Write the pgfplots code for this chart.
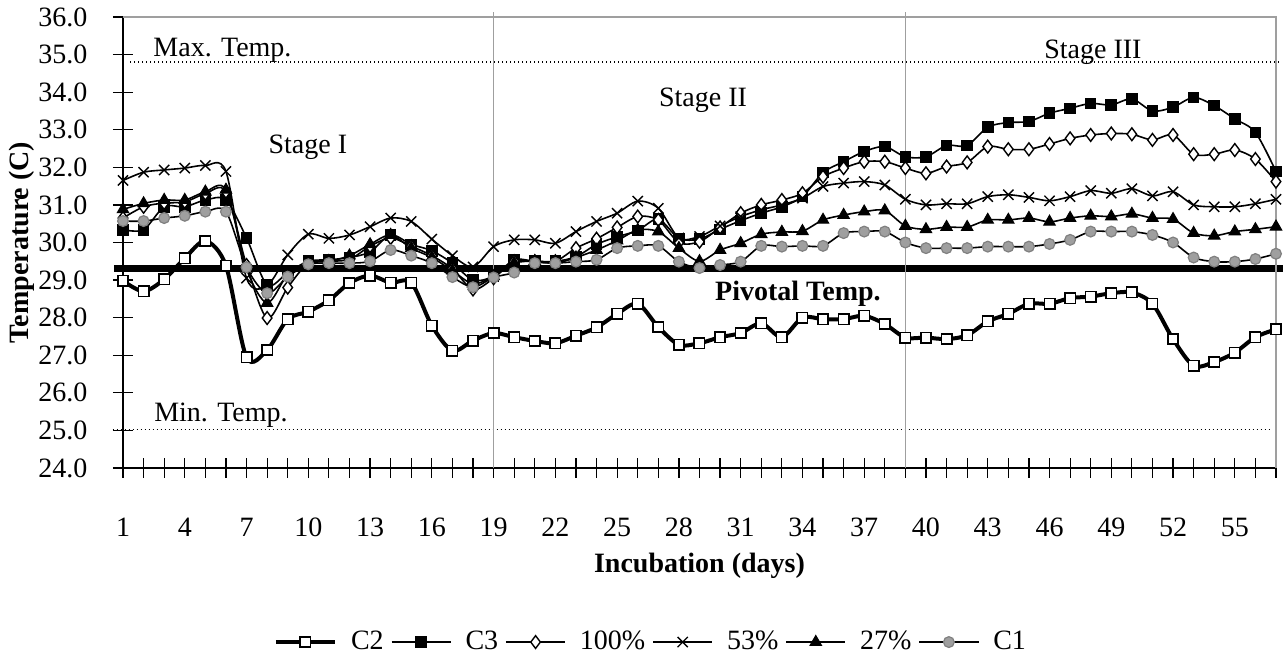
\documentclass[border=0pt]{standalone}
\usepackage{pgfplots}
\pgfplotsset{compat=1.18}
\usepackage{pgfplotstable}
\usepackage{fontspec}
\setmainfont{Liberation Serif}

\pgfplotstableread{
day c2 c3 p100 p53 p27 c1
1 28.98 30.34 30.65 31.65 30.88 30.57
2 28.70 30.34 30.95 31.87 31.04 30.57
3 29.02 30.95 31.05 31.93 31.13 30.65
4 29.58 30.95 31.08 31.98 31.13 30.71
5 30.04 31.13 31.30 32.05 31.35 30.82
6 29.38 31.13 31.35 31.89 31.40 30.82
7 26.94 30.12 29.40 29.05 29.30 29.34
8 27.14 28.87 27.99 28.85 28.39 28.65
9 27.96 29.20 28.80 29.67 29.15 29.09
10 28.16 29.50 29.45 30.22 29.45 29.42
11 28.46 29.54 29.50 30.11 29.50 29.45
12 28.92 29.60 29.55 30.20 29.65 29.45
13 29.12 29.75 29.90 30.42 29.95 29.50
14 28.93 30.20 30.12 30.65 30.20 29.80
15 28.93 29.95 29.90 30.56 29.85 29.65
16 27.79 29.78 29.65 30.09 29.60 29.45
17 27.12 29.45 29.30 29.65 29.25 29.08
18 27.39 29.00 28.75 29.35 28.90 28.81
19 27.59 29.10 29.05 29.89 29.10 29.07
20 27.48 29.54 29.50 30.07 29.45 29.20
21 27.38 29.50 29.50 30.07 29.50 29.45
22 27.32 29.50 29.50 29.98 29.45 29.45
23 27.52 29.62 29.85 30.29 29.60 29.49
24 27.74 29.95 30.10 30.56 29.80 29.54
25 28.10 30.15 30.40 30.78 30.05 29.85
26 28.37 30.32 30.69 31.10 30.33 29.91
27 27.75 30.62 30.60 30.91 30.29 29.91
28 27.28 30.11 30.00 30.12 29.85 29.49
29 27.32 30.09 30.02 30.16 29.50 29.32
30 27.48 30.35 30.40 30.44 29.80 29.40
31 27.59 30.58 30.78 30.69 29.98 29.49
32 27.85 30.78 31.00 30.87 30.22 29.91
33 27.48 30.95 31.13 31.00 30.28 29.89
34 28.00 31.22 31.31 31.18 30.30 29.91
35 27.96 31.86 31.75 31.49 30.60 29.91
36 27.96 32.15 31.98 31.58 30.73 30.25
37 28.05 32.42 32.15 31.62 30.82 30.29
38 27.83 32.55 32.15 31.53 30.85 30.29
39 27.47 32.28 31.98 31.15 30.44 30.00
40 27.47 32.28 31.84 31.00 30.35 29.85
41 27.43 32.58 32.02 31.03 30.41 29.85
42 27.53 32.58 32.13 31.03 30.41 29.85
43 27.90 33.07 32.55 31.22 30.60 29.89
44 28.10 33.19 32.48 31.27 30.60 29.89
45 28.37 33.22 32.48 31.20 30.65 29.89
46 28.37 33.44 32.62 31.11 30.55 29.96
47 28.52 33.57 32.77 31.22 30.65 30.07
48 28.56 33.70 32.86 31.38 30.71 30.29
49 28.65 33.66 32.90 31.31 30.69 30.29
50 28.67 33.82 32.88 31.43 30.76 30.29
51 28.37 33.50 32.73 31.24 30.65 30.20
52 27.43 33.60 32.86 31.35 30.62 30.00
53 26.72 33.86 32.35 31.00 30.25 29.60
54 26.82 33.64 32.35 30.95 30.18 29.49
55 27.07 33.29 32.46 30.95 30.29 29.49
56 27.48 32.93 32.22 31.03 30.35 29.56
57 27.69 31.89 31.62 31.15 30.42 29.70
}\datatable

\begin{document}
\fontsize{14}{17}\selectfont
\begin{tikzpicture}
\useasboundingbox (0,0) rectangle (643pt,328pt);
\begin{axis}[
  at={(61.5pt,94pt)}, anchor=south west,
  width=576.5pt, height=225.5pt, scale only axis,
  xmin=1, xmax=57, ymin=24, ymax=36,
  axis x line*=bottom, axis y line*=left,
  axis line style={black, line width=0.8pt, -},
  xtick={1,4,...,55}, minor xtick={1,...,57},
  ytick={24,25,...,36},
  tick align=center, major tick length=10pt, minor tick length=10pt,
  every tick/.style={black, line width=0.6pt},
  minor tick style={black, line width=0.6pt},
  /pgf/number format/assume math mode=true,
  yticklabel style={/pgf/number format/.cd, fixed, fixed zerofill, precision=1, /tikz/.cd, xshift=-8pt},
  xticklabel style={yshift=-15pt},
  xlabel={\bfseries Incubation (days)},
  ylabel={\bfseries Temperature (C)},
  xlabel style={at={(axis description cs:0.5,-0.217)}, anchor=center},
  ylabel style={at={(axis description cs:-0.0876,0.5)}, anchor=center, rotate=0},
  clip=false,
  legend style={at={(axis description cs:0.457,-0.386)}, anchor=center, draw=none, fill=none,
    font=\fontsize{14}{17}\selectfont,
    nodes={inner sep=0pt},
    /tikz/every even column/.append style={column sep=3.5pt},
    /tikz/every odd column/.append style={column sep=7pt}},
  legend columns=6,
  legend image code/.code={\draw[mark repeat=2,mark phase=2] plot coordinates {(0cm,0cm) (0.52cm,0cm) (1.04cm,0cm)};},
]
% reference lines
\draw[black, line width=3.5pt] (axis cs:0.56,29.32) -- (axis cs:57.34,29.32);
\draw[black, line width=0.6pt, dash pattern=on 0.6pt off 1.4pt] (axis cs:1.35,34.8) -- (axis cs:57.3,34.8);
\draw[black, line width=0.6pt, dash pattern=on 0.6pt off 1.4pt] (axis cs:0.5,25.03) -- (axis cs:56.7,25.03);
\draw[gray!75, line width=0.8pt] (axis cs:19,36.13) -- (axis cs:19,24);
\draw[gray!75, line width=0.8pt] (axis cs:39,36.13) -- (axis cs:39,24);
\draw[gray!75, line width=0.8pt] (rel axis cs:0,1) -- (rel axis cs:1,1) -- (rel axis cs:1,0);

\addplot[black, line width=2pt, smooth, mark=square*, mark size=2.6pt,
  mark options={solid, fill=white, draw=black, line width=0.8pt}] table[x=day, y=c2] {\datatable};
\addlegendentry{C2}
\addplot[black, line width=0.8pt, smooth, mark=square*, mark size=2.6pt,
  mark options={solid, fill=black, draw=black, line width=0.6pt}] table[x=day, y=c3] {\datatable};
\addlegendentry{C3}
\addplot[black, line width=0.8pt, smooth, mark=diamond*, mark size=3.2pt,
  mark options={solid, fill=white, draw=black, line width=0.7pt}] table[x=day, y=p100] {\datatable};
\addlegendentry{100\%}
\addplot[black, line width=0.8pt, smooth, mark=x, mark size=3.6pt,
  mark options={solid, draw=black, line width=0.7pt}] table[x=day, y=p53] {\datatable};
\addlegendentry{53\%}
\addplot[black, line width=0.8pt, smooth, mark=triangle*, mark size=3.3pt,
  mark options={solid, fill=black, draw=black, line width=0.5pt}] table[x=day, y=p27] {\datatable};
\addlegendentry{27\%}
\addplot[black, line width=0.8pt, smooth, mark=*, mark size=2.7pt,
  mark options={solid, fill=gray!75, draw=gray, line width=0.6pt}] table[x=day, y=c1] {\datatable};
\addlegendentry{C1}

\node[anchor=base, inner sep=0pt] at (axis cs:5.83,34.94) {Max. Temp.};
\node[anchor=base, inner sep=0pt] at (axis cs:5.76,25.24) {Min. Temp.};
\node[anchor=base, inner sep=0pt] at (axis cs:9.98,32.36) {Stage I};
\node[anchor=base, inner sep=0pt] at (axis cs:29.17,33.61) {Stage II};
\node[anchor=base, inner sep=0pt] at (axis cs:48.11,34.90) {Stage III};
\node[anchor=base, inner sep=0pt, font=\bfseries] at (axis cs:33.78,28.45) {Pivotal Temp.};
\end{axis}
\end{tikzpicture}
\end{document}
